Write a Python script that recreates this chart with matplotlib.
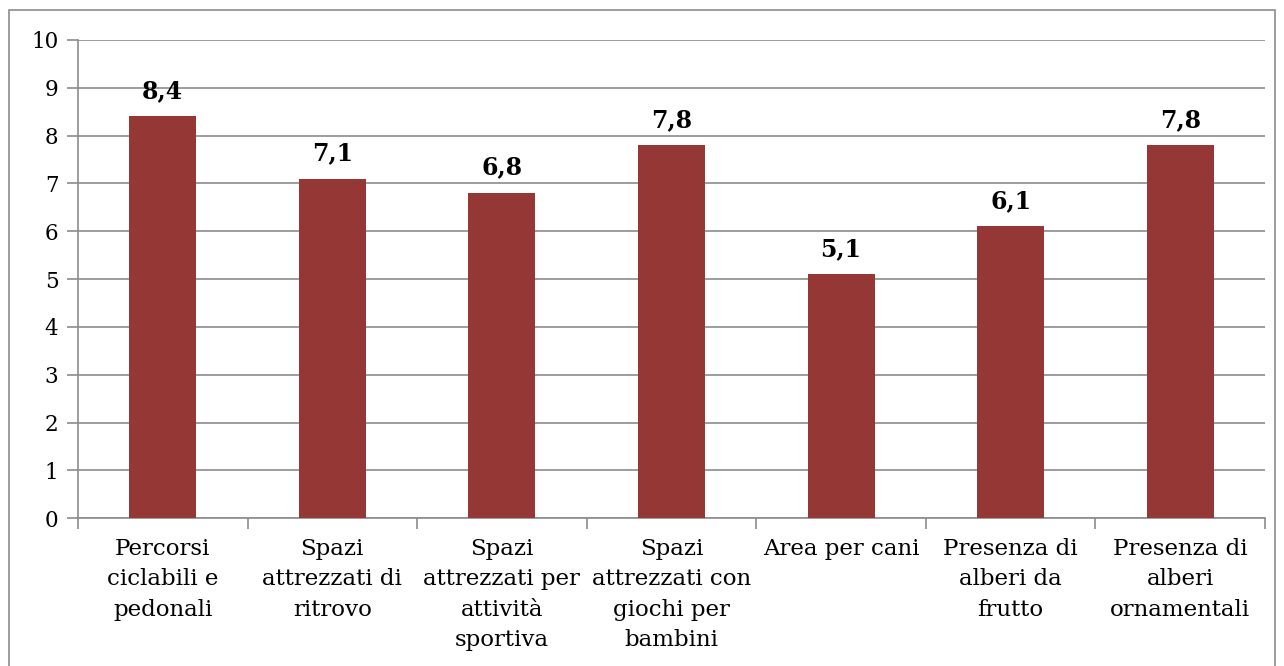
import numpy as np
import matplotlib.pyplot as plt
from matplotlib.patches import Rectangle

categories = ["Percorsi\nciclabili e\npedonali",
              "Spazi\nattrezzati di\nritrovo",
              "Spazi\nattrezzati per\nattività\nsportiva",
              "Spazi\nattrezzati con\ngiochi per\nbambini",
              "Area per cani",
              "Presenza di\nalberi da\nfrutto",
              "Presenza di\nalberi\nornamentali"]
values = [8.4, 7.1, 6.8, 7.8, 5.1, 6.1, 7.8]
value_labels = ["8,4", "7,1", "6,8", "7,8", "5,1", "6,1", "7,8"]

plt.rcParams['font.family'] = ['DejaVu Serif']

fig = plt.figure(figsize=(12.84, 6.66), dpi=100)
ax = fig.add_axes([0.0607, 0.222, 0.9245, 0.718])

# outer chart frame
fig.patches.append(Rectangle((9/1284, -0.1), 1266/1284, 1.1 - 10/666,
                             transform=fig.transFigure, fill=False,
                             edgecolor='#8c8c8c', linewidth=1.2))

x = np.arange(len(values))
ax.bar(x, values, width=0.395, color='#953735', zorder=3)
for xi, v, lab in zip(x, values, value_labels):
    ax.text(xi, v + 0.28, lab, ha='center', va='bottom',
            fontsize=17, fontweight='bold')

ax.set_xlim(-0.5, len(values) - 0.5)
ax.set_ylim(0, 10)
ax.set_yticks(range(11))
ax.yaxis.grid(True, color='#8c8c8c', linewidth=1.2, zorder=0)
ax.tick_params(axis='y', length=8, width=1.2, color='#8c8c8c', labelsize=15.5, pad=6)

ax.set_xticks(x)
ax.set_xticklabels(categories, fontsize=16.5, linespacing=1.5)
ax.tick_params(axis='x', length=0, pad=14)
ax.set_xticks(np.arange(-0.5, len(values)), minor=True)
ax.tick_params(axis='x', which='minor', length=8, width=1.2, color='#8c8c8c')

for s in ['top', 'right']:
    ax.spines[s].set_visible(False)
for s in ['left', 'bottom']:
    ax.spines[s].set_color('#8c8c8c')
    ax.spines[s].set_linewidth(1.2)

fig.savefig('out.png', dpi=100)
